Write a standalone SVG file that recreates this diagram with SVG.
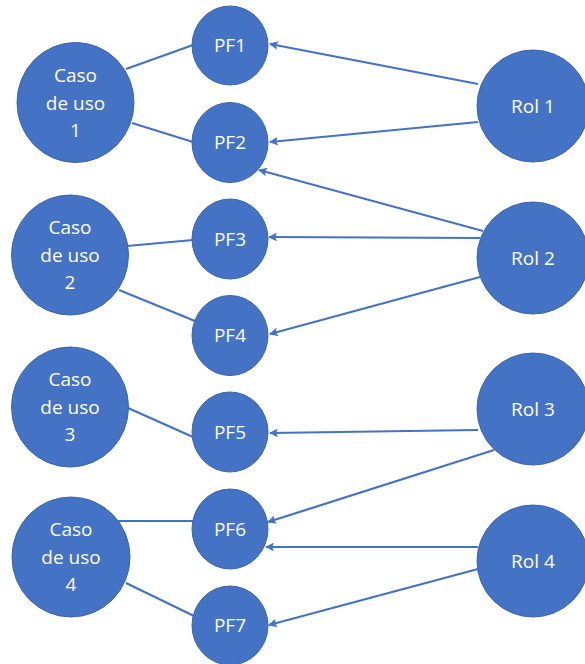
<svg xmlns="http://www.w3.org/2000/svg" width="585" height="664" viewBox="0 0 585 664">
<style>
.n{fill:#4472C4;stroke:#3A65B0;stroke-width:1}
.t{fill:#fff;font-family:"Open Sans","Liberation Sans",sans-serif;font-size:19px;text-anchor:middle}
.e{stroke:#4472C4;stroke-width:2.2;fill:none}
.a{marker-end:url(#ah)}
</style>
<defs>
<marker id="ah" viewBox="0 0 10 10" refX="9" refY="5" markerWidth="4" markerHeight="4" orient="auto" markerUnits="strokeWidth">
<path d="M0,0 L10,5 L0,10 L2,5 z" fill="#4472C4"/>
</marker>
</defs>
<g id="connectors">
<line class="e" x1="126" y1="69" x2="193" y2="45"/>
<line class="e" x1="132" y1="123" x2="193" y2="142"/>
<line class="e" x1="127" y1="246" x2="193" y2="240"/>
<line class="e" x1="119" y1="290" x2="195" y2="321"/>
<line class="e" x1="128" y1="408" x2="193" y2="437"/>
<line class="e" x1="118" y1="521" x2="193" y2="521"/>
<line class="e" x1="126" y1="583" x2="194" y2="616"/>
<line class="e a" x1="478" y1="84" x2="270" y2="44"/>
<line class="e a" x1="478" y1="122" x2="270" y2="142"/>
<line class="e a" x1="483" y1="231" x2="259" y2="170"/>
<line class="e a" x1="480" y1="238" x2="269" y2="237"/>
<line class="e a" x1="480" y1="277" x2="270" y2="334"/>
<line class="e a" x1="478" y1="430" x2="270" y2="433"/>
<line class="e a" x1="494" y1="450" x2="268" y2="522"/>
<line class="e a" x1="478" y1="547" x2="266" y2="547"/>
<line class="e a" x1="478" y1="569" x2="269" y2="625"/>
</g>
<g id="caso1"><ellipse class="n" cx="75.5" cy="102.5" rx="58.5" ry="60"/><text class="t" x="75.5" y="82">Caso</text><text class="t" x="75.5" y="110">de uso</text><text class="t" x="75.5" y="137">1</text></g>
<g id="caso2"><ellipse class="n" cx="70" cy="255" rx="58.5" ry="60"/><text class="t" x="70" y="234">Caso</text><text class="t" x="70" y="262">de uso</text><text class="t" x="70" y="289">2</text></g>
<g id="caso3"><ellipse class="n" cx="70" cy="407" rx="58.5" ry="60"/><text class="t" x="70" y="386">Caso</text><text class="t" x="70" y="414">de uso</text><text class="t" x="70" y="441">3</text></g>
<g id="caso4"><ellipse class="n" cx="71" cy="557" rx="59" ry="60"/><text class="t" x="71" y="536">Caso</text><text class="t" x="71" y="564">de uso</text><text class="t" x="71" y="591">4</text></g>
<g id="pf1"><ellipse class="n" cx="230" cy="45.5" rx="38" ry="39.5"/><text class="t" x="230" y="52">PF1</text></g>
<g id="pf2"><ellipse class="n" cx="230" cy="142.5" rx="38" ry="40"/><text class="t" x="230" y="149">PF2</text></g>
<g id="pf3"><ellipse class="n" cx="230" cy="239" rx="38" ry="40"/><text class="t" x="230" y="245.5">PF3</text></g>
<g id="pf4"><ellipse class="n" cx="230" cy="335.5" rx="38" ry="40"/><text class="t" x="230" y="342">PF4</text></g>
<g id="pf5"><ellipse class="n" cx="230" cy="432" rx="38" ry="40"/><text class="t" x="230" y="438.5">PF5</text></g>
<g id="pf6"><ellipse class="n" cx="230" cy="529" rx="38" ry="40"/><text class="t" x="230" y="535.5">PF6</text></g>
<g id="pf7"><ellipse class="n" cx="230" cy="625.5" rx="38" ry="39.5"/><text class="t" x="230" y="632">PF7</text></g>
<g id="rol1"><circle class="n" cx="533" cy="106" r="56"/><text class="t" x="533" y="113">Rol 1</text></g>
<g id="rol2"><circle class="n" cx="533" cy="258" r="56"/><text class="t" x="533" y="265">Rol 2</text></g>
<g id="rol3"><circle class="n" cx="533" cy="409" r="56"/><text class="t" x="533" y="416">Rol 3</text></g>
<g id="rol4"><circle class="n" cx="533" cy="561" r="56"/><text class="t" x="533" y="568">Rol 4</text></g>
</svg>
